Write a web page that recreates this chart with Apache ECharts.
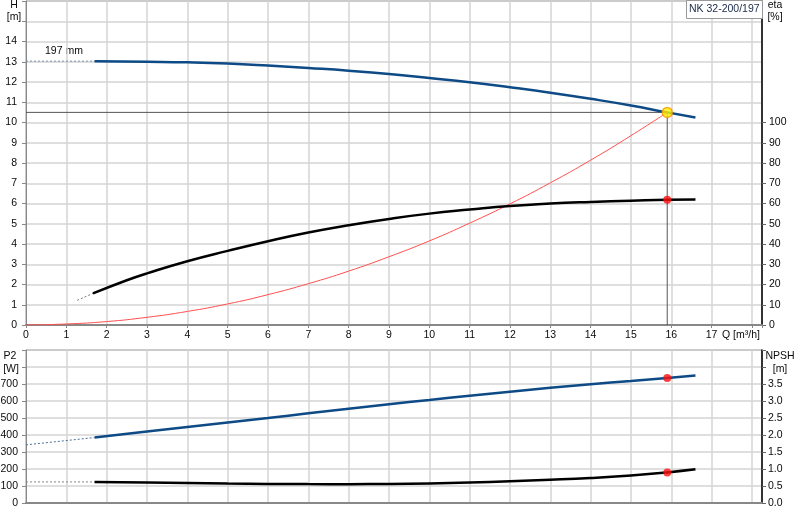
<!DOCTYPE html>
<html>
<head>
<meta charset="utf-8">
<script src="https://cdn.jsdelivr.net/npm/echarts@6/dist/echarts.min.js"></script>
<style>
  html, body { margin: 0; padding: 0; background: #fff; }
  #chart { width: 800px; height: 520px; }
</style>
</head>
<body>
<div id="chart"></div>
<script>
// pump curve values
const qH = [1.7, 3, 4, 5, 6, 7, 8, 9, 10, 11, 12, 13, 14, 15, 15.9, 16.6];
const headVals = [13.03, 13.0, 12.97, 12.91, 12.81, 12.69, 12.56, 12.4, 12.2, 11.99, 11.74, 11.47, 11.17, 10.84, 10.5, 10.25];
const headDash = [[0, 13.03], [1.7, 13.03]];

const qEta = [1.66, 2.5, 3, 4, 5, 6, 7, 8, 9, 10, 11, 12, 13, 14, 15, 15.9, 16.6];
const etaVals = [15.6, 22.1, 25.5, 31.5, 36.6, 41.4, 45.7, 49.3, 52.4, 55, 57, 58.8, 60, 60.8, 61.4, 61.9, 62];
const etaDash = [[1.27, 12.2], [1.66, 15.6]];

const qSys = [0, 1, 2, 3, 4, 5, 6, 7, 8, 9, 10, 11, 12, 13, 14, 15, 15.9];
const sysVals = [0, 0.05, 0.17, 0.38, 0.67, 1.04, 1.5, 2.04, 2.66, 3.37, 4.15, 5.03, 5.98, 7.02, 8.14, 9.35, 10.5];

const qP2 = [1.7, 3, 4, 5, 6, 7, 8, 9, 10, 11, 12, 13, 14, 15, 15.9, 16.6];
const p2Vals = [385, 420, 447, 474, 500, 528, 555, 581, 606, 631, 655, 678, 699, 718, 736, 750];
const p2Dash = [[0, 342], [1.7, 385]];

const qNpsh = [1.7, 3, 4, 5, 6, 7, 8, 9, 10, 11, 12, 13, 14, 15, 15.9, 16.6];
const npshVals = [0.62, 0.6, 0.585, 0.572, 0.562, 0.556, 0.555, 0.56, 0.577, 0.605, 0.64, 0.682, 0.735, 0.81, 0.9, 0.99];
const npshDash = [[0, 0.62], [1.7, 0.62]];

const duty = { q: 15.9, h: 10.5, eta: 61.9, p2: 736, npsh: 0.9 };

const qLabels = [0, 1, 2, 3, 4, 5, 6, 7, 8, 9, 10, 11, 12, 13, 14, 15, 16, 17];
const hLabels = [0, 1, 2, 3, 4, 5, 6, 7, 8, 9, 10, 11, 12, 13, 14];
const etaLabels = [0, 10, 20, 30, 40, 50, 60, 70, 80, 90, 100];
const p2Labels = [0, 100, 200, 300, 400, 500, 600, 700];
const npshLabels = [0, 0.5, 1, 1.5, 2, 2.5, 3, 3.5];

const zip = (xs, ys) => xs.map((x, i) => [x, ys[i]]);

const FONT = 'Liberation Sans';
const FS = 10.5;
const TXT = '#0a0a0a';
const GRIDLINE = { show: true, lineStyle: { color: '#d5d5d5', width: 1.5 } };
const labelStyle = { fontFamily: FONT, fontSize: FS, color: TXT };

const chart = echarts.init(document.getElementById('chart'));

function xAxisFor (gridIndex, showLabels) {
    return {
        type: 'value', gridIndex, min: 0, max: 18.25, interval: 1,
        axisLine: { show: true, lineStyle: { color: '#888', width: 2 } },
        axisTick: { show: showLabels, length: 3, lineStyle: { color: '#888' } },
        axisLabel: Object.assign({ show: showLabels, margin: 5, customValues: qLabels }, labelStyle),
        splitLine: GRIDLINE,
    };
}

function text (x, y, str, align) {
    return {
        type: 'text', x, y,
        style: { text: str, font: FS + 'px ' + FONT, fill: TXT, align: align || 'left', verticalAlign: 'middle' },
    };
}

const option = {
    animation: false,
    title: {
        text: 'NK 32-200/197', left: 686, top: 0,
        padding: [4, 3],
        backgroundColor: '#fff', borderColor: '#999', borderWidth: 1,
        textStyle: { fontFamily: FONT, fontSize: FS, fontWeight: 'normal', color: '#1a2a4a' },
    },
    grid: [
        { left: 26, right: 38, top: 1, height: 324, outerBoundsMode: 'none', show: true, borderColor: '#666', borderWidth: 1 },
        { left: 26, right: 38, top: 350, height: 153, outerBoundsMode: 'none', show: true, borderColor: '#666', borderWidth: 1 },
    ],
    xAxis: [xAxisFor(0, true), xAxisFor(1, false)],
    yAxis: [
        {
            type: 'value', gridIndex: 0, position: 'left', min: 0, max: 16, interval: 1,
            axisLine: { show: true, lineStyle: { color: '#888', width: 1 } },
            axisTick: { show: true, length: 4, lineStyle: { color: '#888' } },
            axisLabel: Object.assign({ margin: 9, customValues: hLabels }, labelStyle),
            splitLine: GRIDLINE,
        },
        {
            type: 'value', gridIndex: 0, position: 'right', min: 0, max: 160, interval: 10,
            axisLine: { show: true, lineStyle: { color: '#000', width: 1.5 } },
            axisTick: { show: true, length: 4, customValues: etaLabels, lineStyle: { color: '#666' } },
            axisLabel: Object.assign({ margin: 7, customValues: etaLabels }, labelStyle),
            splitLine: { show: false },
        },
        {
            type: 'value', gridIndex: 1, position: 'left', min: 0, max: 900, interval: 100,
            axisLine: { show: true, lineStyle: { color: '#888', width: 1 } },
            axisTick: { show: true, length: 4, lineStyle: { color: '#888' } },
            axisLabel: Object.assign({ margin: 8, customValues: p2Labels }, labelStyle),
            splitLine: GRIDLINE,
        },
        {
            type: 'value', gridIndex: 1, position: 'right', min: 0, max: 4.5, interval: 0.5,
            axisLine: { show: true, lineStyle: { color: '#000', width: 1.5 } },
            axisTick: { show: true, length: 4, lineStyle: { color: '#666' } },
            axisLabel: Object.assign({ margin: 6, customValues: npshLabels, formatter: v => v.toFixed(1) }, labelStyle),
            splitLine: { show: false },
        },
    ],
    graphic: [
        text(14, 5, 'H', 'center'),
        text(14, 17, '[m]', 'center'),
        text(775, 5, 'eta', 'center'),
        text(775, 17, '[%]', 'center'),
        text(10, 356, 'P2', 'center'),
        text(11, 369, '[W]', 'center'),
        text(780, 356, 'NPSH', 'center'),
        text(780, 369, '[m]', 'center'),
        text(722, 335, 'Q [m³/h]'),
        text(45, 51, '197 mm'),
    ],
    series: [
        // operating point cross lines
        {
            type: 'line', xAxisIndex: 0, yAxisIndex: 0, symbol: 'none', z: 1,
            lineStyle: { color: '#555', width: 1 },
            data: [[0, duty.h], [duty.q, duty.h], [duty.q, 0]],
        },
        {
            type: 'line', xAxisIndex: 0, yAxisIndex: 0, symbol: 'none',
            lineStyle: { color: '#7a90aa', width: 1, type: [2, 2] },
            data: headDash,
        },
        {
            type: 'line', xAxisIndex: 0, yAxisIndex: 0, symbol: 'none', smooth: true,
            lineStyle: { color: '#0d4a86', width: 2.5 },
            data: zip(qH, headVals),
        },
        {
            type: 'line', xAxisIndex: 0, yAxisIndex: 0, symbol: 'none', smooth: true,
            lineStyle: { color: '#ff5050', width: 1 },
            data: zip(qSys, sysVals),
        },
        {
            type: 'line', xAxisIndex: 0, yAxisIndex: 1, symbol: 'none',
            lineStyle: { color: '#777', width: 1, type: [2, 2] },
            data: etaDash,
        },
        {
            type: 'line', xAxisIndex: 0, yAxisIndex: 1, symbol: 'none', smooth: true,
            lineStyle: { color: '#000', width: 2.5 },
            data: zip(qEta, etaVals),
        },
        {
            type: 'scatter', xAxisIndex: 0, yAxisIndex: 0, symbolSize: 10, z: 5,
            itemStyle: { color: '#ffee00', borderColor: '#f29a00', borderWidth: 1.5 },
            data: [[duty.q, duty.h]],
        },
        {
            type: 'scatter', xAxisIndex: 0, yAxisIndex: 1, symbolSize: 8, z: 5,
            itemStyle: { color: '#ff1010' },
            data: [[duty.q, duty.eta]],
        },
        // lower panel
        {
            type: 'line', xAxisIndex: 1, yAxisIndex: 2, symbol: 'none',
            lineStyle: { color: '#4a6f9a', width: 1, type: [2, 2] },
            data: p2Dash,
        },
        {
            type: 'line', xAxisIndex: 1, yAxisIndex: 2, symbol: 'none', smooth: true,
            lineStyle: { color: '#0d4a86', width: 2.5 },
            data: zip(qP2, p2Vals),
        },
        {
            type: 'line', xAxisIndex: 1, yAxisIndex: 3, symbol: 'none',
            lineStyle: { color: '#888', width: 1, type: [2, 2] },
            data: npshDash,
        },
        {
            type: 'line', xAxisIndex: 1, yAxisIndex: 3, symbol: 'none', smooth: true,
            lineStyle: { color: '#000', width: 2.5 },
            data: zip(qNpsh, npshVals),
        },
        {
            type: 'scatter', xAxisIndex: 1, yAxisIndex: 2, symbolSize: 8, z: 5,
            itemStyle: { color: '#ff1010' },
            data: [[duty.q, duty.p2]],
        },
        {
            type: 'scatter', xAxisIndex: 1, yAxisIndex: 3, symbolSize: 8, z: 5,
            itemStyle: { color: '#ff1010' },
            data: [[duty.q, duty.npsh]],
        },
    ],
};

chart.setOption(option);
</script>
</body>
</html>
